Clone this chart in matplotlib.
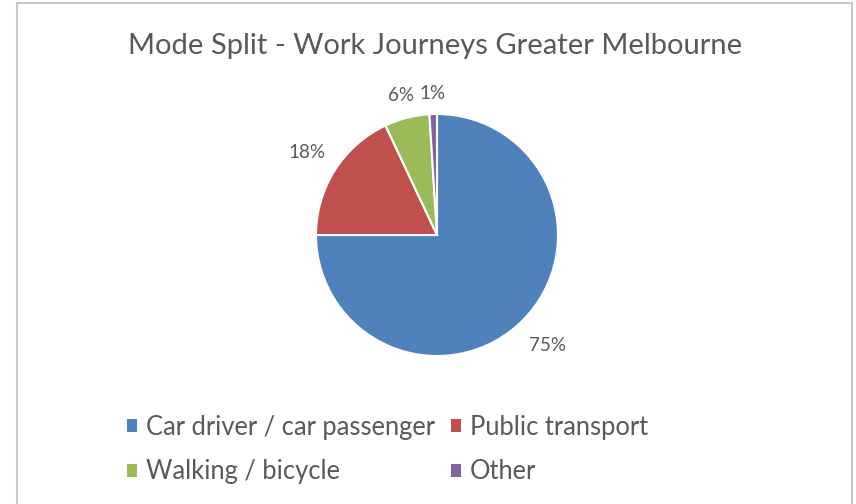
import numpy as np
import matplotlib.pyplot as plt
from matplotlib.lines import Line2D
from matplotlib.patches import Patch

plt.rcParams['font.family'] = ['Lato', 'DejaVu Sans']

# data
modes = ['Car driver / car passenger', 'Public transport', 'Walking / bicycle', 'Other']
shares = [75, 18, 6, 1]
colors = ['#4F81BD', '#C0504D', '#9BBB59', '#8064A2']
label_r = [1.29, 1.27, 1.19, 1.17]   # how far out each % label sits
text_c = '#595959'

W, H = 856, 504
fig = plt.figure(figsize=(W / 100, H / 100), dpi=100)

# chart frame
for xs, ys in [([17, 852], [3, 3]), ([17, 17], [3, 504]), ([852, 852], [3, 504])]:
    fig.add_artist(Line2D([x / W for x in xs], [1 - y / H for y in ys],
                          color='#c8c8c8', lw=1.5, transform=fig.transFigure))

fig.text(435 / W, 1 - 46 / H, 'Mode Split - Work Journeys Greater Melbourne',
         ha='center', va='center', fontsize=21, color=text_c)

# pie axes: centre (437, 235) px, radius 121 px
cx, cy, r = 437, 235, 121
ax = fig.add_axes([(cx - r) / W, 1 - (cy + r) / H, 2 * r / W, 2 * r / H])
wedges, _ = ax.pie(shares, colors=colors, startangle=90, counterclock=False,
                   wedgeprops=dict(edgecolor='white', linewidth=1.5))
ax.set_xlim(-1, 1)
ax.set_ylim(-1, 1)
ax.set_aspect('equal')
ax.axis('off')

# percentage labels outside each wedge
start = 90
for v, k in zip(shares, label_r):
    mid = np.deg2rad(start - v / 100 * 360 / 2)
    start -= v / 100 * 360
    ax.text(k * np.cos(mid), k * np.sin(mid), f'{v}%', ha='center', va='center',
            fontsize=13.5, color=text_c, clip_on=False)

# legend filled row by row: car, public / walking, other
order = [0, 2, 1, 3]
handles = [Patch(facecolor=colors[i], edgecolor='none') for i in order]
leg = fig.legend(handles, [modes[i] for i in order], ncol=2, loc='upper left',
                 bbox_to_anchor=(104 / W, 1 - 392 / H), frameon=False,
                 fontsize=18.4, labelcolor=text_c, handlelength=0.4, handleheight=0.4,
                 handletextpad=0.35, columnspacing=0.62, labelspacing=0.76)

fig.savefig('out.png', dpi=100)
